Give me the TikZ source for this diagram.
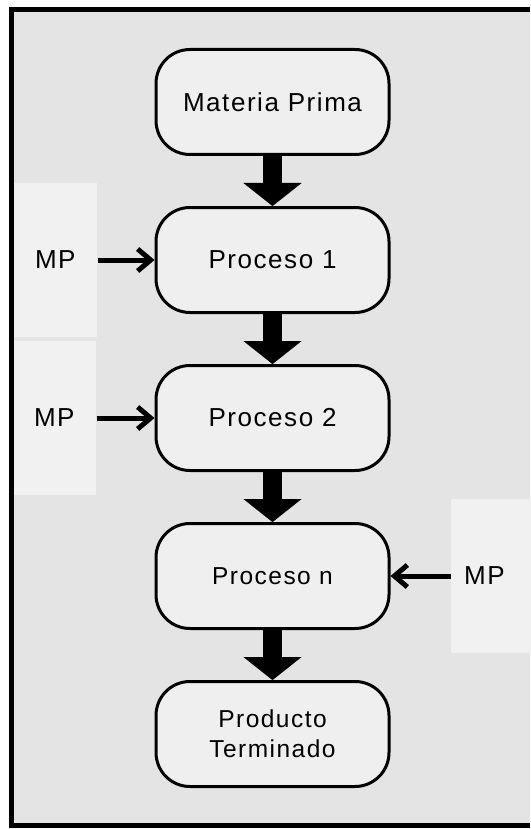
\documentclass[tikz,border=0pt]{standalone}
\usepackage{fontspec}
\setmainfont{Liberation Sans}[LetterSpace=6]
\usetikzlibrary{arrows.meta,positioning}
\definecolor{bggray}{HTML}{E4E4E4}
\definecolor{boxgray}{HTML}{EFEFEF}
\definecolor{panelgray}{HTML}{F1F1F1}

\begin{document}
\begin{tikzpicture}[
		x=1pt, y=-1pt,
		node distance=50pt,
		block/.style={draw, line width=3pt, fill=boxgray, rounded corners=34pt, minimum width=233pt, minimum height=105pt, align=center, font=\fontsize{26}{30}\selectfont},
		smalltext/.style={font=\fontsize{24.5}{30}\selectfont},
		panel/.style={fill=panelgray, minimum width=84pt, minimum height=154pt, font=\fontsize{26}{30}\selectfont},
		flow/.style={line width=19pt, -{Triangle[width=58pt, length=23pt, line width=0.1pt]}},
		feed/.style={line width=5pt, -{Straight Barb[length=13pt, width=22pt]}},
	]
		\useasboundingbox (0,0) rectangle (530,829);
		\fill[bggray] (11,9) rectangle (530,825);
		
		\node (mat) [block] at (272.5,102) {Materia Prima};
		\node (proc1) [block, below=of mat] {Proceso 1};
		\node (proc2) [block, below=of proc1] {Proceso 2};
		\node (procn) [block, smalltext, below=of proc2] {Proceso n};
		\node (prod) [block, smalltext, below=of procn] {Producto\\Terminado};
		
		\draw[flow] (mat) -- (proc1);
		\draw[flow] (proc1) -- (proc2);
		\draw[flow] (proc2) -- (procn);
		\draw[flow] (procn) -- (prod);
		
		\node (mp1) [panel, left=57pt of proc1] {MP};
		\node (mp2) [panel, left=58pt of proc2] {MP};
		\node (mp3) [panel, right=60pt of procn, inner xsep=11.5pt, text width=57pt, align=left] {MP};
		
		\draw[feed] (mp1) -- (proc1);
		\draw[feed] (mp2) -- (proc2);
		\draw[feed] (mp3) -- (procn);
		
		\draw[line width=5pt] (530,9.5) -- (11,9.5) -- (11,825) -- (530,825);
	\end{tikzpicture}
\end{document}
